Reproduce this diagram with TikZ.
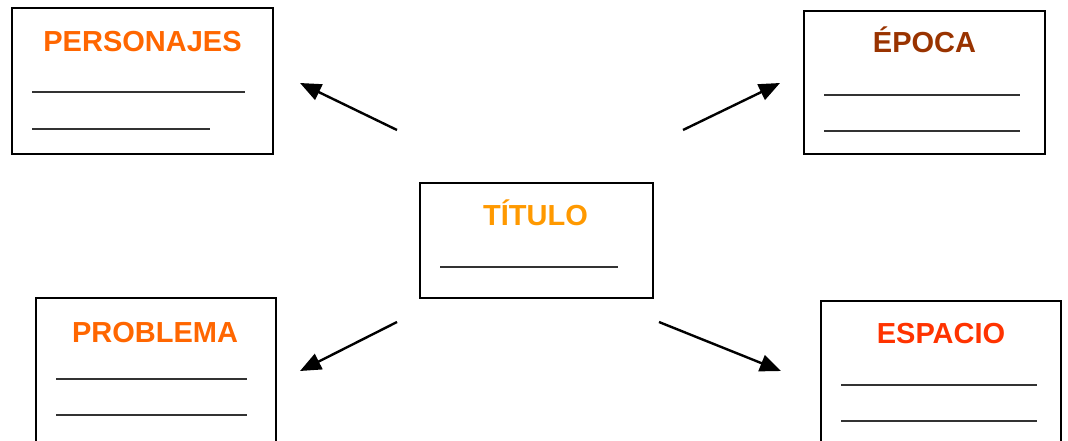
\documentclass[tikz,border=0pt]{standalone}
\usepackage{fontspec}
\setmainfont{Liberation Sans}
\usetikzlibrary{arrows.meta}
\definecolor{naranja}{HTML}{FF6600}
\definecolor{ambar}{HTML}{FF9900}
\definecolor{marron}{HTML}{993300}
\definecolor{rojizo}{HTML}{FF3300}
\begin{document}
\begin{tikzpicture}[x=1pt,y=-1pt,
    box/.style={draw,line width=1.8pt,inner sep=0pt},
    titulo/.style={anchor=base,font=\fontsize{29}{29}\selectfont\bfseries},
    blank/.style={draw=black!80,line width=1.5pt},
    arr/.style={-{Triangle[length=21pt,width=17pt]},line width=2.4pt}]
            \useasboundingbox (0,0) rectangle (1068,441);
            \clip (0,0) rectangle (1068,441);

            \node[box,minimum width=261pt,minimum height=146pt] (personajes) at (142.5,81) {};
            \node[box,minimum width=241pt,minimum height=143pt] (epoca) at (924.5,82.5) {};
            \node[box,minimum width=233pt,minimum height=115pt] (centro) at (536.5,240.5) {};
            \node[box,minimum width=240pt,minimum height=170pt] (problema) at (156,383) {};
            \node[box,minimum width=240pt,minimum height=170pt] (espacio) at (941,386) {};

            \node[titulo,text=naranja] (tpersonajes) at (142.5,52) {PERSONAJES};
            \node[titulo,text=marron] (tepoca) at (924.5,53) {ÉPOCA};
            \node[titulo,text=ambar] (tcentro) at (535.5,225) {TÍTULO};
            \node[titulo,text=naranja] (tproblema) at (155,342) {PROBLEMA};
            \node[titulo,text=rojizo] (tespacio) at (941,343) {ESPACIO};

            \draw[blank] (32,92) -- (245,92);
            \draw[blank] (32,129) -- (210,129);
            \draw[blank] (824,95) -- (1020,95);
            \draw[blank] (824,131) -- (1020,131);
            \draw[blank] (440,267) -- (618,267);
            \draw[blank] (56,379) -- (247,379);
            \draw[blank] (56,415) -- (247,415);
            \draw[blank] (841,385) -- (1037,385);
            \draw[blank] (841,421) -- (1037,421);

            \coordinate (a1) at (397,130);
            \coordinate (b1) at (300,83);
            \coordinate (a2) at (683,130);
            \coordinate (b2) at (780,83);
            \coordinate (a3) at (397,322);
            \coordinate (b3) at (300,371);
            \coordinate (a4) at (659,322);
            \coordinate (b4) at (781,371);

            \path[arr]
            (a1) edge (b1)
            (a2) edge (b2)
            (a3) edge (b3)
            (a4) edge (b4);
        \end{tikzpicture}
\end{document}
